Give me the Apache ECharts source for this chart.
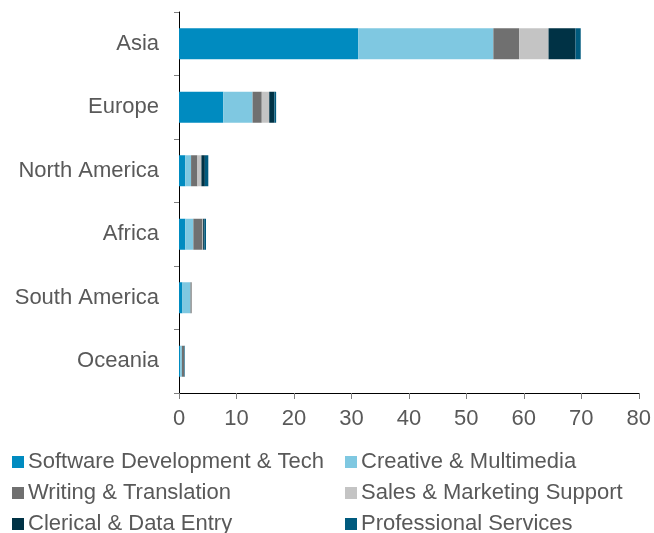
<!DOCTYPE html>
<html>
<head>
<meta charset="utf-8">
<script src="https://cdn.jsdelivr.net/npm/echarts@6/dist/echarts.min.js"></script>
<style>
  html, body { margin: 0; padding: 0; background: #fff; }
  #chart { width: 654px; height: 533px; }
</style>
</head>
<body>
<div id="chart"></div>
<script>
// regions, bottom to top as the category axis draws them
var regions = ['Oceania', 'South America', 'Africa', 'North America', 'Europe', 'Asia'];

var softwareDev = [0.2, 0.6, 1.1, 1.1, 7.7, 31.2];
var creative    = [0.3, 1.4, 1.4, 1.0, 5.1, 23.5];
var writing     = [0.4, 0.2, 1.6, 1.1, 1.6, 4.5];
var sales       = [0.0, 0.0, 0.1, 0.7, 1.3, 5.1];
var clerical    = [0.0, 0.0, 0.2, 0.6, 0.9, 4.7];
var professional = [0.1, 0.0, 0.3, 0.6, 0.3, 0.9];

var xTicks = [0, 10, 20, 30, 40, 50, 60, 70, 80];

var seriesNames = ['Software Development & Tech', 'Creative & Multimedia', 'Writing & Translation',
  'Sales & Marketing Support', 'Clerical & Data Entry', 'Professional Services'];
var seriesData = [softwareDev, creative, writing, sales, clerical, professional];
var colors = ['#008bc0', '#7fc8e1', '#707070', '#c4c4c4', '#003245', '#005a7e'];

var textColor = '#595959';
var font = 'Liberation Sans, Arial, sans-serif';

var chart = echarts.init(document.getElementById('chart'));

var series = seriesNames.map(function (name, i) {
  return {
    name: name,
    type: 'bar',
    stack: 'total',
    barWidth: 31,
    data: seriesData[i],
    itemStyle: { color: colors[i] },
    emphasis: { disabled: true }
  };
});

function legendAt(left, names) {
  return {
    orient: 'vertical',
    left: left,
    top: 451,
    height: 90,
    padding: 0,
    itemWidth: 12,
    itemHeight: 12,
    itemGap: 9,
    icon: 'rect',
    data: names,
    selectedMode: false,
    textStyle: { color: textColor, fontSize: 22, lineHeight: 22, fontFamily: font, padding: [0, 0, 0, -1] }
  };
}

chart.setOption({
  animation: false,
  color: colors,
  textStyle: { fontFamily: font },
  grid: { left: 179, right: 14, top: 12, bottom: 140 },
  legend: [
    legendAt(12, [seriesNames[0], seriesNames[2], seriesNames[4]]),
    legendAt(345, [seriesNames[1], seriesNames[3], seriesNames[5]])
  ],
  xAxis: {
    type: 'value',
    min: xTicks[0],
    max: xTicks[xTicks.length - 1],
    interval: 10,
    axisLine: { show: true, lineStyle: { color: '#000', width: 1 } },
    axisTick: { show: true, length: 6, inside: false, lineStyle: { color: '#7f7f7f' } },
    splitLine: { show: false },
    axisLabel: { color: textColor, fontSize: 22, fontFamily: font, margin: 15 }
  },
  yAxis: {
    type: 'category',
    data: regions,
    axisLine: { show: true, lineStyle: { color: '#000', width: 1 } },
    axisTick: { show: true, length: 5, alignWithLabel: false, lineStyle: { color: '#7f7f7f' } },
    axisLabel: { color: textColor, fontSize: 22, fontFamily: font, margin: 20 }
  },
  series: series
});
</script>
</body>
</html>
